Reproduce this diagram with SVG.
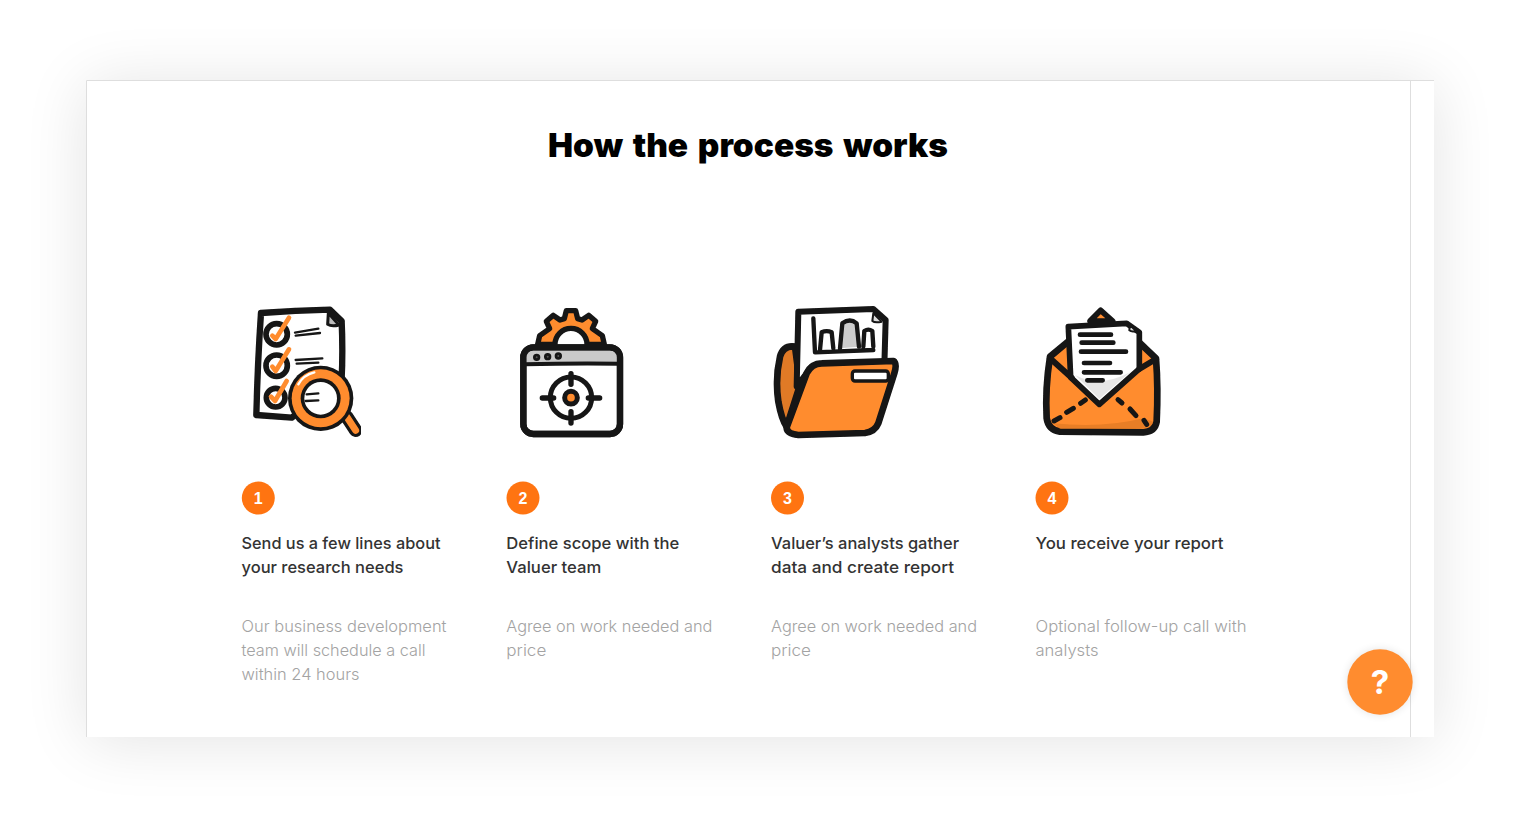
<svg xmlns="http://www.w3.org/2000/svg" width="1518" height="825" viewBox="0 0 1518 825">
<style>
.ink{stroke:#141414;stroke-linecap:round;stroke-linejoin:round}
.k{fill:none;stroke:#141414;stroke-linecap:round;stroke-linejoin:round}
.o{fill:#ff8c2f}
.head{font:500 16.500px Inter,"Liberation Sans",sans-serif;fill:#333}
.body{font:300 16.500px Inter,"Liberation Sans",sans-serif;fill:#a3a3a3}
.num{font:700 16px "Liberation Sans",Arial,sans-serif;fill:#fff;text-anchor:middle}
.soft{filter:url(#sf)}
</style>
<defs>
<filter id="sh" x="-15%" y="-25%" width="130%" height="150%"><feGaussianBlur stdDeviation="32"/></filter>
<filter id="bs" x="-50%" y="-50%" width="200%" height="200%"><feGaussianBlur stdDeviation="4"/></filter>
<filter id="sf" x="-5%" y="-5%" width="110%" height="110%"><feGaussianBlur stdDeviation="1.500"/></filter>
</defs>
<rect width="1518" height="825" fill="#fff"/>
<rect x="86" y="84" width="1348" height="657" fill="#000" opacity=".11" filter="url(#sh)"/>
<rect x="86" y="80" width="1348" height="657" fill="#fff"/>
<path d="M86.500 737V80.500H1434M1410.500 80.500V737" fill="none" stroke="#dedede"/>
<text x="748" y="157" text-anchor="middle" font-family="Inter,'Liberation Sans',sans-serif" font-weight="900" font-size="33" word-spacing="3" fill="#000" textLength="400" lengthAdjust="spacingAndGlyphs">How the process works</text>

<g id="step1">
<g transform="translate(235 295) scale(.3333)" class="soft">
<path class="ink" fill="#fff" stroke-width="19" d="M78 54Q180 46 285 44L320 78Q324 170 320 250L170 368L64 360Q68 200 78 54Z"/>
<path class="ink" fill="#bdbdbd" stroke-width="9" d="M280 54L312 90Q290 96 278 88Z"/>
<g class="k" stroke-width="17"><circle cx="125" cy="118" r="32"/><circle cx="125" cy="212" r="32"/><circle cx="122" cy="308" r="28"/></g>
<g fill="none" stroke="#ff8c2f" stroke-width="14" stroke-linecap="round" stroke-linejoin="round"><path d="M112 122L122 132L162 68"/><path d="M112 215L122 228L162 163"/><path d="M108 305L120 318L155 258"/></g>
<path class="k" stroke-width="7" d="M180 113L250 101M182 122L255 114M182 195L262 190M185 206L250 203"/>
<path stroke="#141414" stroke-width="40" stroke-linecap="round" d="M335 365L362 406"/>
<path stroke="#ff8c2f" stroke-width="21" stroke-linecap="round" d="M335 365L362 406"/>
<circle cx="257" cy="310" r="98" fill="#141414"/>
<circle cx="257" cy="310" r="87" fill="#ff8c2f"/>
<circle cx="257" cy="310" r="60" fill="#141414"/>
<circle cx="257" cy="310" r="49" fill="#fff"/>
<path class="k" stroke-width="7" d="M215 298L250 295M212 318L250 316"/>
<path d="M190 268Q205 240 238 232" fill="none" stroke="#fff" stroke-width="7" stroke-linecap="round"/>
</g>
<circle cx="258.300" cy="498" r="16.500" fill="#ff7411"/>
<text class="num" x="258.300" y="504">1</text>
<text class="head" x="241.500" y="549" textLength="199" lengthAdjust="spacingAndGlyphs">Send us a few lines about</text>
<text class="head" x="241.500" y="573" textLength="162" lengthAdjust="spacingAndGlyphs">your research needs</text>
<text class="body" x="241.500" y="632" textLength="205" lengthAdjust="spacingAndGlyphs">Our business development</text>
<text class="body" x="241.500" y="656" textLength="184" lengthAdjust="spacingAndGlyphs">team will schedule a call</text>
<text class="body" x="241.500" y="680" textLength="118" lengthAdjust="spacingAndGlyphs">within 24 hours</text>
</g>

<g id="step2">
<g transform="translate(505 295) scale(.3333)" class="soft">
<path class="ink o" stroke-width="16" d="M98 148L104 122L134 101L124 79L145 61L165 75L178 71L184 47L212 47L218 71L231 75L251 61L272 79L262 101L292 122L298 148L246 148A48 48 0 0 0 150 148Z"/>
<rect x="55" y="157" width="290" height="260" rx="30" fill="#fff" class="ink" stroke-width="19"/>
<path d="M64 168H336V205H64Z" fill="#c9c9c9"/>
<path class="k" stroke-width="12" d="M60 208Q200 204 340 206"/>
<rect x="55" y="157" width="290" height="260" rx="30" class="k" stroke-width="19"/>
<g fill="#555" stroke="#141414" stroke-width="8"><circle cx="95" cy="187" r="7"/><circle cx="128" cy="185" r="7"/><circle cx="160" cy="183" r="7"/></g>
<circle cx="198" cy="308" r="62" class="k" stroke-width="15"/>
<circle cx="198" cy="308" r="19" class="o" stroke="#141414" stroke-width="15"/>
<path class="k" stroke-width="16" d="M198 236V268M198 350V384M112 309H146M250 309H284"/>
</g>
<circle cx="523" cy="498" r="16.500" fill="#ff7411"/>
<text class="num" x="523" y="504">2</text>
<text class="head" x="506.300" y="549" textLength="173" lengthAdjust="spacingAndGlyphs">Define scope with the</text>
<text class="head" x="506.300" y="573" textLength="95" lengthAdjust="spacingAndGlyphs">Valuer team</text>
<text class="body" x="506.300" y="632" textLength="206" lengthAdjust="spacingAndGlyphs">Agree on work needed and</text>
<text class="body" x="506.300" y="656" textLength="40" lengthAdjust="spacingAndGlyphs">price</text>
</g>

<g id="step3">
<g transform="translate(765 295) scale(.3333)" class="soft">
<path class="ink" fill="#e07a28" stroke-width="20" d="M90 155Q55 150 45 185Q30 250 40 320Q50 375 65 395L105 270Z"/>
<path class="ink" fill="#fff" stroke-width="18" d="M100 50L325 42L362 75L358 215L140 215L95 275Z"/>
<path class="ink" fill="#ddd" stroke-width="6" d="M325 55L350 80Q330 85 322 78Z"/>
<path class="ink" fill="#ccc" stroke-width="13" d="M225 160L232 85Q255 68 275 85L282 155"/>
<path class="k" stroke-width="13" d="M145 70L150 172L325 165M165 165L170 112Q185 105 200 112L205 160M295 155L298 108Q310 100 322 108L325 155"/>
<path class="ink o" stroke-width="20" d="M65 397L125 235Q140 205 170 205L385 198Q397 205 388 235L340 385Q330 410 300 414L100 420Q65 417 65 397Z"/>
<rect x="262" y="228" width="108" height="30" rx="8" fill="#fff" class="ink" stroke-width="10"/>
</g>
<circle cx="787.500" cy="498" r="16.500" fill="#ff7411"/>
<text class="num" x="787.500" y="504">3</text>
<text class="head" x="771" y="549" textLength="188" lengthAdjust="spacingAndGlyphs">Valuer’s analysts gather</text>
<text class="head" x="771" y="573" textLength="183" lengthAdjust="spacingAndGlyphs">data and create report</text>
<text class="body" x="771" y="632" textLength="206" lengthAdjust="spacingAndGlyphs">Agree on work needed and</text>
<text class="body" x="771" y="656" textLength="40" lengthAdjust="spacingAndGlyphs">price</text>
</g>

<g id="step4">
<g transform="translate(1030 295) scale(.3333)" class="soft">
<path class="ink o" stroke-width="17" d="M180 78L212 46L248 78Z"/>
<path class="ink o" stroke-width="20" d="M60 185Q45 280 50 370Q55 405 90 410L340 412Q375 410 380 380Q385 280 378 190L320 135L120 135Z"/>
<path d="M70 385Q220 400 340 370L370 380Q365 400 330 402L90 402Z" fill="#d9741f" opacity=".6"/>
<path class="ink" fill="#fff" stroke-width="17" d="M115 95L290 85L328 112L328 222L208 328L122 247Z"/>
<path fill="#dcdcdc" d="M135 240L208 312L300 232Q210 280 135 240Z" opacity=".7"/>
<path class="ink" fill="#ddd" stroke-width="6" d="M300 90L318 108Q305 112 298 106Z"/>
<path class="k" stroke-width="14" d="M150 119H243M155 143H250M153 170H288M162 204H240M162 232H272M172 256H218"/>
<path class="k" stroke-width="18" d="M60 190L125 248M328 222L378 192"/>
<path class="k" stroke-width="15" d="M72 378L90 368M110 352L130 340M152 325L166 315M264 314L276 324M300 342L318 362M342 376L350 388"/>
</g>
<circle cx="1052" cy="498" r="16.500" fill="#ff7411"/>
<text class="num" x="1052" y="504">4</text>
<text class="head" x="1035.500" y="549" textLength="188" lengthAdjust="spacingAndGlyphs">You receive your report</text>
<text class="body" x="1035.500" y="632" textLength="211" lengthAdjust="spacingAndGlyphs">Optional follow-up call with</text>
<text class="body" x="1035.500" y="656" textLength="63" lengthAdjust="spacingAndGlyphs">analysts</text>
</g>

<g id="help">
<circle cx="1380" cy="682" r="33" fill="#000" opacity=".1" filter="url(#bs)"/>
<circle cx="1380" cy="682" r="32.700" fill="#ff8c2f"/>
<text x="1380" y="694" text-anchor="middle" font-family="Inter,'Liberation Sans',sans-serif" font-weight="700" font-size="33" fill="#fff">?</text>
</g>
</svg>
